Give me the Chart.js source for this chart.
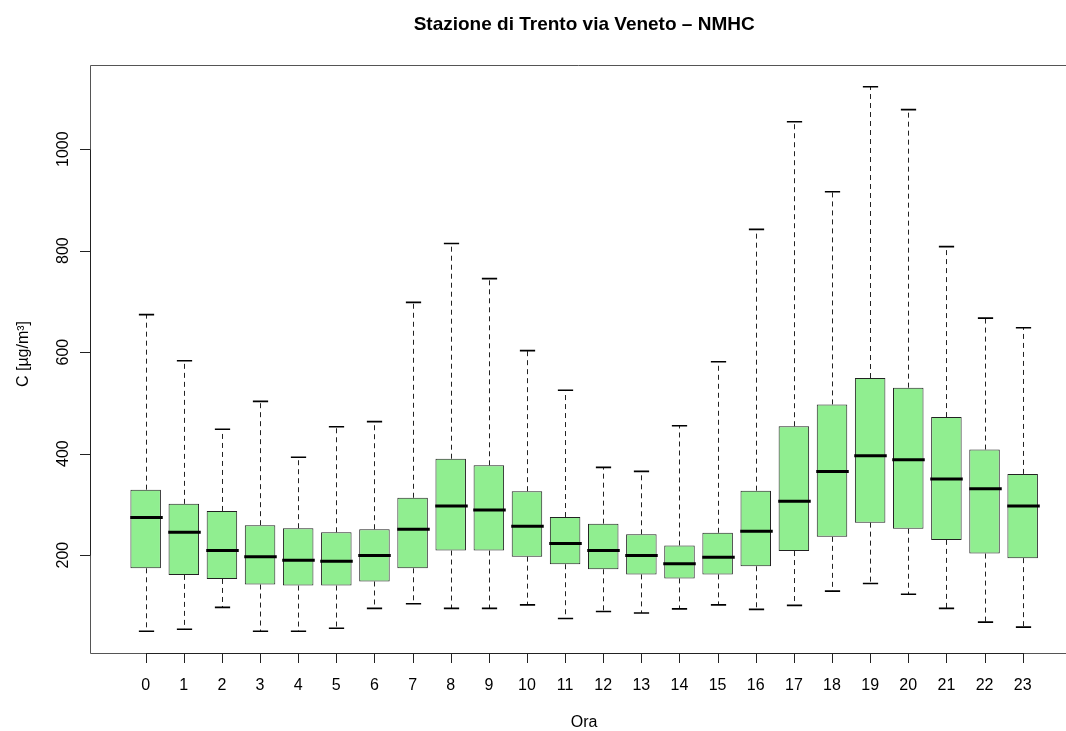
<!DOCTYPE html>
<html lang="it">
<head>
  <meta charset="UTF-8" />
  <title>Stazione di Trento via Veneto – NMHC</title>
  <script src="https://cdn.jsdelivr.net/npm/chart.js"></script>
  <style>
    html, body {
      margin: 0;
      padding: 0;
      background: #fff;
      overflow: hidden;
    }
    canvas {
      display: block;
    }
  </style>
</head>
<body>
  <canvas id="boxChart" width="1066" height="731"></canvas>

  <script>
    // Dati (NMHC, µg/m³)
    const hours        = [0, 1, 2, 3, 4, 5, 6, 7, 8, 9, 10, 11, 12, 13, 14, 15, 16, 17, 18, 19, 20, 21, 22, 23];
    const whiskerLow   = [50, 54, 97, 50, 50, 56, 95, 104, 95, 95, 102, 75, 89, 86, 94, 102, 93, 101, 129, 144, 123, 95, 68, 58];
    const boxLow       = [174, 161, 153, 142, 140, 140, 148, 174, 209, 209, 197, 182, 172, 162, 154, 162, 178, 208, 236, 264, 252, 230, 203, 194];
    const medians      = [274, 245, 209, 197, 190, 188, 199, 251, 297, 289, 257, 223, 209, 199, 183, 196, 247, 306, 365, 396, 388, 350, 331, 297];
    const boxHigh      = [329, 301, 287, 259, 253, 245, 251, 313, 390, 377, 326, 275, 262, 241, 219, 244, 327, 454, 497, 549, 530, 472, 408, 360];
    const whiskerHigh  = [674, 583, 448, 503, 393, 453, 463, 698, 814, 745, 603, 525, 373, 365, 455, 581, 842, 1054, 916, 1123, 1078, 808, 667, 648];
    const yTickValues  = [200, 400, 600, 800, 1000];

    const titleText = 'Stazione di Trento via Veneto – NMHC';
    const xLabel = 'Ora';
    const yLabel = 'C [µg/m³]';

    // assi come in R: range esteso del 4% per lato
    const yLo = Math.min(...whiskerLow), yHi = Math.max(...whiskerHigh);
    const yPad = (yHi - yLo) * 0.04;
    const xLoR = hours[0] - 0.5, xHiR = hours[hours.length - 1] + 0.5;
    const xPad = (xHiR - xLoR) * 0.04;
    // il grafico originale è tagliato a destra
    const plotLeft = 90, plotTop = 65, plotBottom = 653, canvasW = 1066;
    const unitPx = 38.13;
    const xMin = xLoR - xPad;
    const xMax = xMin + (canvasW - plotLeft) / unitPx;
    const xMid = (xLoR + xHiR) / 2;

    const FONT = '"Liberation Sans", Arial, Helvetica, sans-serif';

    const rPlot = {
      id: 'rPlot',
      beforeDatasetsDraw(chart) {
        const { ctx, scales: { x, y } } = chart;
        ctx.save();
        ctx.strokeStyle = '#222';
        ctx.lineWidth = 1;
        ctx.setLineDash([5, 4]);
        hours.forEach((h, i) => {
          const px = Math.round(x.getPixelForValue(h)) + 0.5;
          ctx.beginPath();
          ctx.moveTo(px, y.getPixelForValue(boxHigh[i]));
          ctx.lineTo(px, y.getPixelForValue(whiskerHigh[i]));
          ctx.moveTo(px, y.getPixelForValue(boxLow[i]));
          ctx.lineTo(px, y.getPixelForValue(whiskerLow[i]));
          ctx.stroke();
        });
        ctx.restore();
      },
      afterDatasetsDraw(chart) {
        const { ctx, chartArea, scales: { x, y } } = chart;
        const half = (x.getPixelForValue(0.4) - x.getPixelForValue(0));
        ctx.save();

        // baffi (staple) e mediane
        hours.forEach((h, i) => {
          const px = Math.round(x.getPixelForValue(h)) + 0.5;
          ctx.strokeStyle = '#000';
          ctx.lineWidth = 1.6;
          ctx.beginPath();
          ctx.moveTo(px - half / 2, y.getPixelForValue(whiskerHigh[i]));
          ctx.lineTo(px + half / 2, y.getPixelForValue(whiskerHigh[i]));
          ctx.moveTo(px - half / 2, y.getPixelForValue(whiskerLow[i]));
          ctx.lineTo(px + half / 2, y.getPixelForValue(whiskerLow[i]));
          ctx.stroke();

          ctx.lineWidth = 3;
          ctx.beginPath();
          ctx.moveTo(px - half - 1, y.getPixelForValue(medians[i]));
          ctx.lineTo(px + half + 1, y.getPixelForValue(medians[i]));
          ctx.stroke();
        });

        // cornice (senza lato destro, fuori immagine)
        ctx.strokeStyle = '#555';
        ctx.lineWidth = 1;
        ctx.beginPath();
        ctx.moveTo(chartArea.right, chartArea.top + 0.5);
        ctx.lineTo(chartArea.left + 0.5, chartArea.top + 0.5);
        ctx.lineTo(chartArea.left + 0.5, chartArea.bottom + 0.5);
        ctx.lineTo(chartArea.right, chartArea.bottom + 0.5);
        ctx.stroke();

        // asse x
        ctx.strokeStyle = '#222';
        ctx.beginPath();
        const x0 = Math.round(x.getPixelForValue(x.ticks[0].value)) + 0.5;
        const x1 = Math.round(x.getPixelForValue(x.ticks[x.ticks.length - 1].value)) + 0.5;
        ctx.moveTo(x0, chartArea.bottom + 0.5);
        ctx.lineTo(x1, chartArea.bottom + 0.5);
        x.ticks.forEach(t => {
          const px = Math.round(x.getPixelForValue(t.value)) + 0.5;
          ctx.moveTo(px, chartArea.bottom);
          ctx.lineTo(px, chartArea.bottom + 10);
        });
        ctx.stroke();

        ctx.fillStyle = '#000';
        ctx.font = '16px ' + FONT;
        ctx.textAlign = 'center';
        ctx.textBaseline = 'middle';
        x.ticks.forEach(t => {
          ctx.fillText(String(t.value), x.getPixelForValue(t.value), 686);
        });

        // asse y
        ctx.strokeStyle = '#222';
        ctx.beginPath();
        const yA = Math.round(y.getPixelForValue(y.ticks[0].value)) + 0.5;
        const yB = Math.round(y.getPixelForValue(y.ticks[y.ticks.length - 1].value)) + 0.5;
        ctx.moveTo(chartArea.left + 0.5, yA);
        ctx.lineTo(chartArea.left + 0.5, yB);
        y.ticks.forEach(t => {
          const py = Math.round(y.getPixelForValue(t.value)) + 0.5;
          ctx.moveTo(chartArea.left, py);
          ctx.lineTo(chartArea.left - 10, py);
        });
        ctx.stroke();

        y.ticks.forEach(t => {
          ctx.save();
          ctx.translate(64, y.getPixelForValue(t.value));
          ctx.rotate(-Math.PI / 2);
          ctx.fillText(String(t.value), 0, 0);
          ctx.restore();
        });

        // titoli
        const cx = x.getPixelForValue(xMid);
        ctx.font = 'bold 19px ' + FONT;
        ctx.fillText(titleText, cx, 25);
        ctx.font = '16px ' + FONT;
        ctx.fillText(xLabel, cx, 723);
        ctx.save();
        ctx.translate(24, 354);
        ctx.rotate(-Math.PI / 2);
        ctx.fillText(yLabel, 0, 0);
        ctx.restore();

        ctx.restore();
      }
    };

    new Chart(document.getElementById('boxChart'), {
      type: 'bar',
      data: {
        datasets: [{
          label: 'NMHC',
          data: hours.map((h, i) => ({ x: h, y: [boxLow[i], boxHigh[i]] })),
          backgroundColor: '#90EE90',
          borderColor: '#222',
          borderWidth: 1,
          borderSkipped: false,
          barPercentage: 0.8,
          categoryPercentage: 1.0
        }]
      },
      options: {
        responsive: false,
        animation: false,
        events: [],
        layout: {
          padding: { left: plotLeft, top: plotTop, right: 0, bottom: 731 - plotBottom }
        },
        scales: {
          x: {
            type: 'linear',
            display: false,
            offset: false,
            min: xMin,
            max: xMax,
            afterBuildTicks: scale => { scale.ticks = hours.map(v => ({ value: v })); }
          },
          y: {
            type: 'linear',
            display: false,
            min: yLo - yPad,
            max: yHi + yPad,
            afterBuildTicks: scale => { scale.ticks = yTickValues.map(v => ({ value: v })); }
          }
        },
        plugins: {
          legend: { display: false },
          tooltip: { enabled: false }
        }
      },
      plugins: [rPlot]
    });
  </script>
</body>
</html>
